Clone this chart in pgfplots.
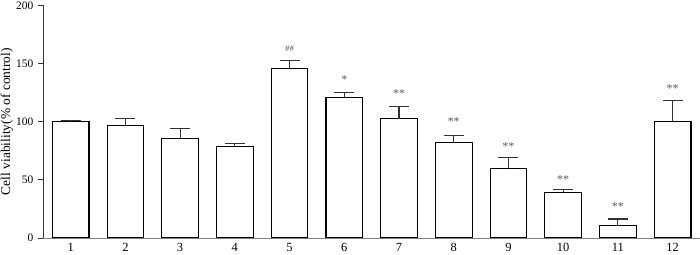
\documentclass[border=0pt]{standalone}
\usepackage{pgfplots}
\pgfplotsset{compat=1.18}
\usepackage{fontspec}
\setmainfont{Liberation Serif}
\begin{document}
\begin{tikzpicture}
\begin{axis}[
  name=ax,
  scale only axis,
  axis on top,
  width=656.7bp, height=232.7bp,
  xmin=0.5, xmax=12.5, ymin=0, ymax=200,
  axis x line=bottom, axis y line=left,
  axis line style={-, line width=0.9pt},
  x axis line style={black!50},
  y axis line style={black!80},
  xtick={1,...,12},
  xtick style={draw=none},
  ytick={0,50,100,150,200},
  tick align=outside,
  major tick length=5bp,
  ytick style={line width=0.9pt, black!80},
  yticklabel style={font=\fontsize{11.5}{13}\selectfont, xshift=-1.5bp},
  xticklabel style={font=\fontsize{12.5}{14}\selectfont, inner sep=0pt, yshift=-0.5bp},
  /pgf/number format/assume math mode=true,
  ylabel={Cell viability(\% of control)},
  ylabel style={font=\fontsize{13.5}{15}\selectfont, at={(axis description cs:-0.0556,0.5)}, anchor=center},
  clip=false,
]
\addplot[ybar, bar width=0.67, fill=white, draw=black, line width=1.1pt,
  error bars/.cd, y dir=plus, y explicit,
  error bar style={line width=1.1pt, draw=black!80},
  error mark options={rotate=90, mark size=10bp, line width=1.1pt, draw=black!80}]
  table[x=x, y=y, y error=e] {
x y e
1 100 0.6
2 97 5.4
3 85.6 8.8
4 78.4 2.9
5 145.6 6.6
6 120.4 4.9
7 102.7 10.6
8 82.1 5.7
9 59.8 9.2
10 39.2 2.3
11 10.6 5.7
12 100.4 17.5
};
\begin{scope}[every node/.style={text=black!65, font=\fontsize{12}{13}\selectfont, anchor=base, inner sep=0pt}]
\node[font=\fontsize{9}{10}\selectfont] at (axis cs:5,160) {\#\#};
\node at (axis cs:6,132.4) {*};
\node at (axis cs:7,120.9) {**};
\node at (axis cs:8,96.5) {**};
\node at (axis cs:9,75.0) {**};
\node at (axis cs:10,47.0) {**};
\node at (axis cs:11,23.5) {**};
\node at (axis cs:12,125.2) {**};
\end{scope}
\end{axis}
\pgfresetboundingbox
\path[use as bounding box] ([xshift=-43.3bp,yshift=-17bp]ax.south west) rectangle ([yshift=5.3bp]ax.north east);
\end{tikzpicture}
\end{document}
